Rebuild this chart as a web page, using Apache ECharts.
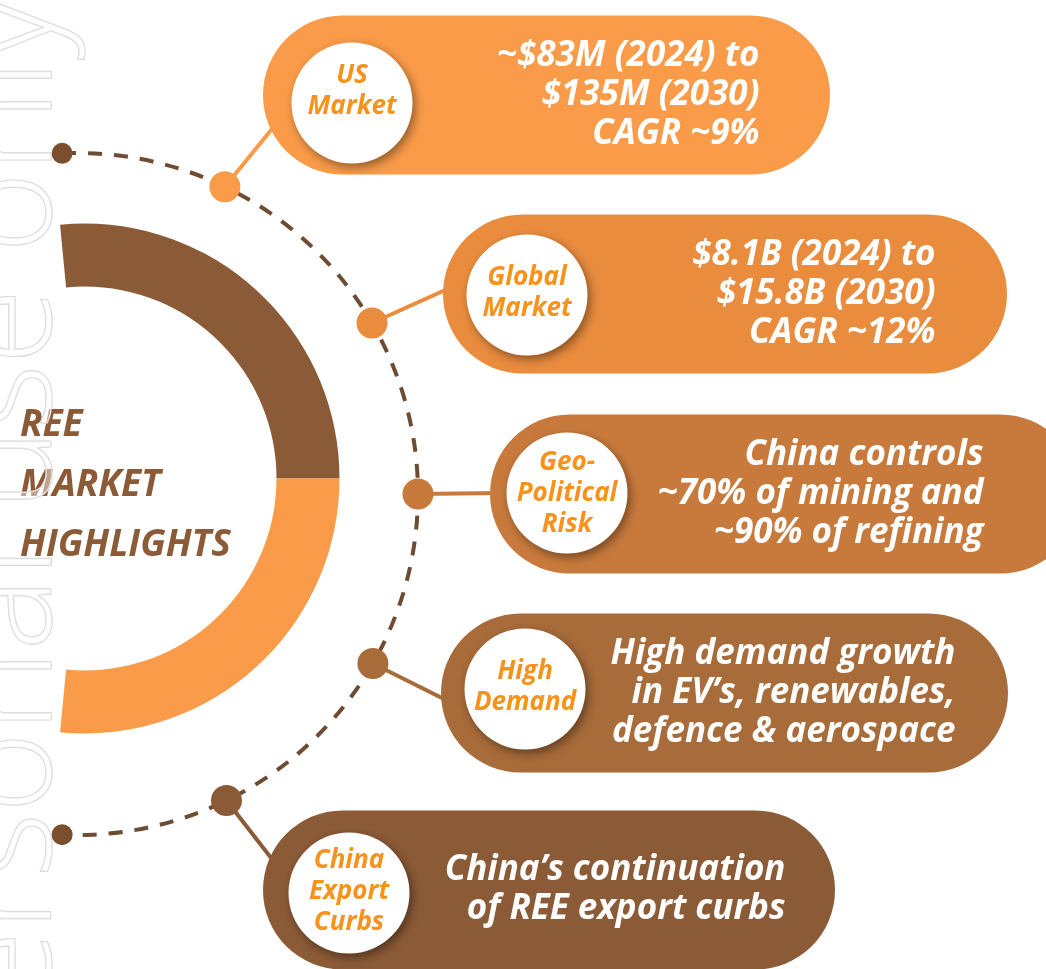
<!DOCTYPE html>
<html><head><meta charset="utf-8">
<script src="https://cdn.jsdelivr.net/npm/echarts@6/dist/echarts.min.js"></script>
<style>html,body{margin:0;padding:0;background:#fff}#c{width:1046px;height:969px}</style>
</head><body><div id="c"></div>
<script>
// ---------- content ----------
const titleLines = ['REE', 'MARKET', 'HIGHLIGHTS'];
const categories = ['US\nMarket', 'Global\nMarket', 'Geo-\nPolitical\nRisk', 'High\nDemand', 'China\nExport\nCurbs'];
const descriptions = [
  '~$83M (2024) to\n$135M (2030)\nCAGR ~9%',
  '$8.1B (2024) to\n$15.8B (2030)\nCAGR ~12%',
  'China controls\n~70% of mining and\n~90% of refining',
  'High demand growth\nin EV\u2019s, renewables,\ndefence & aerospace',
  'China\u2019s continuation\nof REE export curbs'
];
const donutHalves = [1, 1];           // brown upper half, orange lower half
const watermarkText = 'Personal use only';

// ---------- layout / style ----------
const W = 1046, H = 969;
const colors = ['#F99B48', '#E98C3E', '#C87A3C', '#A86B3A', '#8B5A36'];
const rowY = [95, 294, 494, 693, 890];
const pillX0 = [263, 443, 490, 441, 263];
const pillX1 = [830, 1007, 1080, 1008, 835];
const pillH = 159;
const circleX = [352, 527, 567, 525, 349];
const circleY = [103, 295, 493, 689, 893];
const labelY = [91, 293, 494, 687, 892];
const textRight = [760, 936, 984, 956, 786];
const dotAngle = [64.3, 30.1, 0, 330.2, 296];
const connEnd = [[285, 113], [452, 287], [500, 493], [452, 703], [282, 872]];
const arcEndAngle = 92.5;
const FONT = '"Open Sans", "Noto Sans", sans-serif';

const chart = echarts.init(document.getElementById('c'), null, {renderer: 'canvas'});
const donutSpan = 191;
const halfSum = donutHalves[0] + donutHalves[1];
const filler = halfSum * (360 - donutSpan) / donutSpan;

const option = {
  backgroundColor: '#ffffff',
  animation: false,
  title: {
    text: titleLines.join('\n'),
    left: 15, top: 390,
    textStyle: {fontFamily: FONT, fontSize: 37, fontWeight: 'bold', fontStyle: 'italic', color: '#8B5A36', lineHeight: 60}
  },
  grid: {left: 0, right: 0, top: 0, bottom: 0},
  xAxis: {type: 'value', min: 0, max: W, show: false},
  yAxis: {type: 'value', min: 0, max: H, inverse: true, show: false},
  polar: {center: [77, 494], radius: 341},
  angleAxis: {type: 'value', min: 0, max: 360, startAngle: 0, clockwise: false, show: false},
  radiusAxis: {type: 'value', min: 0, max: 1, show: false},
  graphic: [{
    type: 'text', x: 12, y: -4, rotation: Math.PI / 2, z: 100, silent: true,
    style: {
      text: watermarkText, font: '300 138px "Open Sans"',
      align: 'right', verticalAlign: 'middle',
      fill: 'rgba(255,255,255,0.45)', stroke: '#d6d6d6', lineWidth: 1.4
    }
  }],
  series: [
    {
      type: 'pie', silent: true, center: [84.5, 478.5], radius: [192, 255],
      startAngle: 95.5, clockwise: true, label: {show: false}, labelLine: {show: false},
      emphasis: {disabled: true}, z: 1,
      data: [
        {value: donutHalves[0], itemStyle: {color: '#8B5A36'}},
        {value: donutHalves[1], itemStyle: {color: '#F99B48'}},
        {value: filler, itemStyle: {color: 'rgba(0,0,0,0)'}}
      ]
    },
    {
      // dashed arc
      type: 'custom', coordinateSystem: 'polar', silent: true, z: 1,
      data: [[1, 0]],
      renderItem: function (params, api) {
        const cs = params.coordSys;
        const a = arcEndAngle * Math.PI / 180;
        return {type: 'arc', shape: {cx: cs.cx, cy: cs.cy, r: cs.r, startAngle: -a, endAngle: a, clockwise: true},
          style: {stroke: '#6E4C34', lineWidth: 4, lineDash: [14, 12], fill: null}};
      }
    },
    {
      // connectors
      type: 'custom', coordinateSystem: 'polar', silent: true, z: 2,
      data: dotAngle.map((a, i) => [1, a, i]),
      renderItem: function (params, api) {
        const i = params.dataIndex;
        const p = api.coord([api.value(0), api.value(1)]);
        return {type: 'line', shape: {x1: p[0], y1: p[1], x2: connEnd[i][0], y2: connEnd[i][1]},
          style: {stroke: colors[i], lineWidth: 4}};
      }
    },
    {
      type: 'scatter', coordinateSystem: 'polar', silent: true, z: 4,
      symbolSize: 31,
      data: dotAngle.map((a, i) => ({value: [1, a], itemStyle: {color: colors[i], opacity: 1}}))
    },
    {
      type: 'scatter', coordinateSystem: 'polar', silent: true, z: 4,
      symbolSize: 21, itemStyle: {color: '#7B4F2E', opacity: 1},
      data: [[1, arcEndAngle], [1, 360 - arcEndAngle]]
    },
    {
      // pills
      type: 'custom', coordinateSystem: 'cartesian2d', silent: true, z: 3,
      encode: {x: [0, 2], y: 1},
      data: rowY.map((y, i) => [pillX0[i], y, pillX1[i]]),
      renderItem: function (params, api) {
        const i = params.dataIndex;
        const p0 = api.coord([api.value(0), api.value(1)]);
        const p1 = api.coord([api.value(2), api.value(1)]);
        return {type: 'rect', shape: {x: p0[0], y: p0[1] - pillH / 2, width: p1[0] - p0[0], height: pillH, r: pillH / 2},
          style: {fill: colors[i]}};
      }
    },
    {
      // white circles
      type: 'scatter', silent: true, z: 5, symbolSize: 121,
      itemStyle: {color: '#ffffff', opacity: 1, shadowBlur: 10, shadowColor: 'rgba(0,0,0,0.4)', shadowOffsetX: 3, shadowOffsetY: 4},
      data: circleX.map((x, i) => [x, circleY[i]])
    },
    {
      // category labels in circles
      type: 'scatter', silent: true, z: 6, symbolSize: 1, itemStyle: {color: 'rgba(0,0,0,0)', opacity: 1},
      data: circleX.map((x, i) => [x, labelY[i]]),
      label: {
        show: true, position: 'inside', formatter: p => categories[p.dataIndex], opacity: 1,
        fontFamily: FONT, fontSize: 26, fontWeight: 'bold', fontStyle: 'italic', color: '#F7921C', lineHeight: 31, align: 'center'
      }
    },
    {
      // descriptions
      type: 'scatter', silent: true, z: 6, symbolSize: 1, itemStyle: {color: 'rgba(0,0,0,0)', opacity: 1},
      data: textRight.map((x, i) => [x, rowY[i]]),
      label: {
        show: true, position: 'left', distance: 0, formatter: p => descriptions[p.dataIndex], opacity: 1,
        fontFamily: FONT, fontSize: 35, fontWeight: 'bold', fontStyle: 'italic', color: '#ffffff', lineHeight: 39, align: 'right'
      }
    }
  ]
};
chart.setOption(option);
</script>
</body></html>
